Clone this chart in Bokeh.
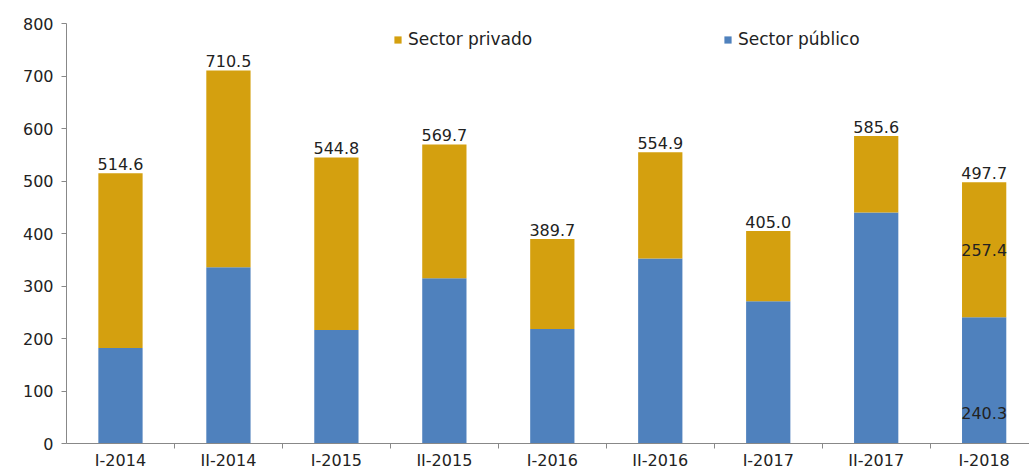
from bokeh.plotting import figure
from bokeh.models import ColumnDataSource, Range1d, FixedTicker, Legend, LegendItem, LabelSet
from bokeh.core.properties import value
from bokeh.embed import file_html
from bokeh.resources import INLINE

categories = ["I-2014", "II-2014", "I-2015", "II-2015", "I-2016", "II-2016", "I-2017", "II-2017", "I-2018"]
publico = [182.0, 335.5, 216.0, 314.7, 218.0, 352.6, 271.0, 440.0, 240.3]
totales = [514.6, 710.5, 544.8, 569.7, 389.7, 554.9, 405.0, 585.6, 497.7]
privado = [round(t - p, 1) for t, p in zip(totales, publico)]
y_ticks = [0, 100, 200, 300, 400, 500, 600, 700, 800]

GOLD = "#D4A00F"
BLUE = "#4F81BD"
FONT = "DejaVu Sans"
TXT = "#222222"

xs = list(range(len(categories)))
src = ColumnDataSource(dict(
    x=xs, pub=publico, tot=totales, priv=privado,
    lab=["%.1f" % t for t in totales],
))

p = figure(width=1029, height=472, output_backend="svg", toolbar_location=None,
           x_range=Range1d(-0.5, 8.42), y_range=Range1d(0, 800),
           min_border_left=66, min_border_right=0, min_border_top=23, min_border_bottom=27)
p.outline_line_color = None
p.xgrid.visible = False
p.ygrid.visible = False

r_pub = p.vbar(x="x", bottom=0, top="pub", width=0.41, source=src, fill_color=BLUE, line_color=None)
r_priv = p.vbar(x="x", bottom="pub", top="tot", width=0.41, source=src, fill_color=GOLD, line_color=None)

labels = LabelSet(x="x", y="tot", text="lab", source=src, text_align="center", text_baseline="bottom",
                  y_offset=3, text_font=value(FONT), text_font_size="16px", text_color=TXT)
p.add_layout(labels)

# inner labels for last bar
last = len(categories) - 1
inner = ColumnDataSource(dict(
    x=[last, last],
    y=[publico[last] + privado[last] / 2, publico[last] * 0.24],
    t=["%.1f" % privado[last], "%.1f" % publico[last]],
))
p.add_layout(LabelSet(x="x", y="y", text="t", source=inner, text_align="center", text_baseline="middle",
                      text_font=value(FONT), text_font_size="16px", text_color=TXT))

# axes
p.xaxis.ticker = FixedTicker(ticks=xs, minor_ticks=[i + 0.5 for i in xs])
p.xaxis.major_label_overrides = {i: c for i, c in enumerate(categories)}
p.xaxis.major_tick_out = 0
p.xaxis.major_tick_in = 0
p.xaxis.minor_tick_out = 5
p.xaxis.minor_tick_in = 0
p.xaxis.minor_tick_line_color = "#888888"
p.xaxis.axis_line_color = "#888888"
p.xaxis.major_label_standoff = 2
p.xaxis.major_label_text_font = FONT
p.xaxis.major_label_text_font_size = "16px"
p.xaxis.major_label_text_color = TXT

p.yaxis.ticker = FixedTicker(ticks=y_ticks)
p.yaxis.minor_tick_line_color = None
p.yaxis.major_tick_out = 5
p.yaxis.major_tick_in = 0
p.yaxis.major_tick_line_color = "#888888"
p.yaxis.axis_line_color = "#888888"
p.yaxis.major_label_standoff = 8
p.yaxis.major_label_text_font = FONT
p.yaxis.major_label_text_font_size = "16px"
p.yaxis.major_label_text_color = TXT

def mk_legend(label, r, xloc):
    lg = Legend(items=[LegendItem(label=label, renderers=[r])], location=(xloc, 394),
                orientation="horizontal", border_line_color=None, background_fill_alpha=0,
                padding=0, margin=0, glyph_width=9, glyph_height=9, label_standoff=6,
                label_text_font=FONT, label_text_font_size="17px", label_text_color=TXT)
    p.add_layout(lg, "center")

mk_legend("Sector privado", r_priv, 327)
mk_legend("Sector público", r_pub, 657)

open("out.html", "w").write(file_html(p, INLINE))
